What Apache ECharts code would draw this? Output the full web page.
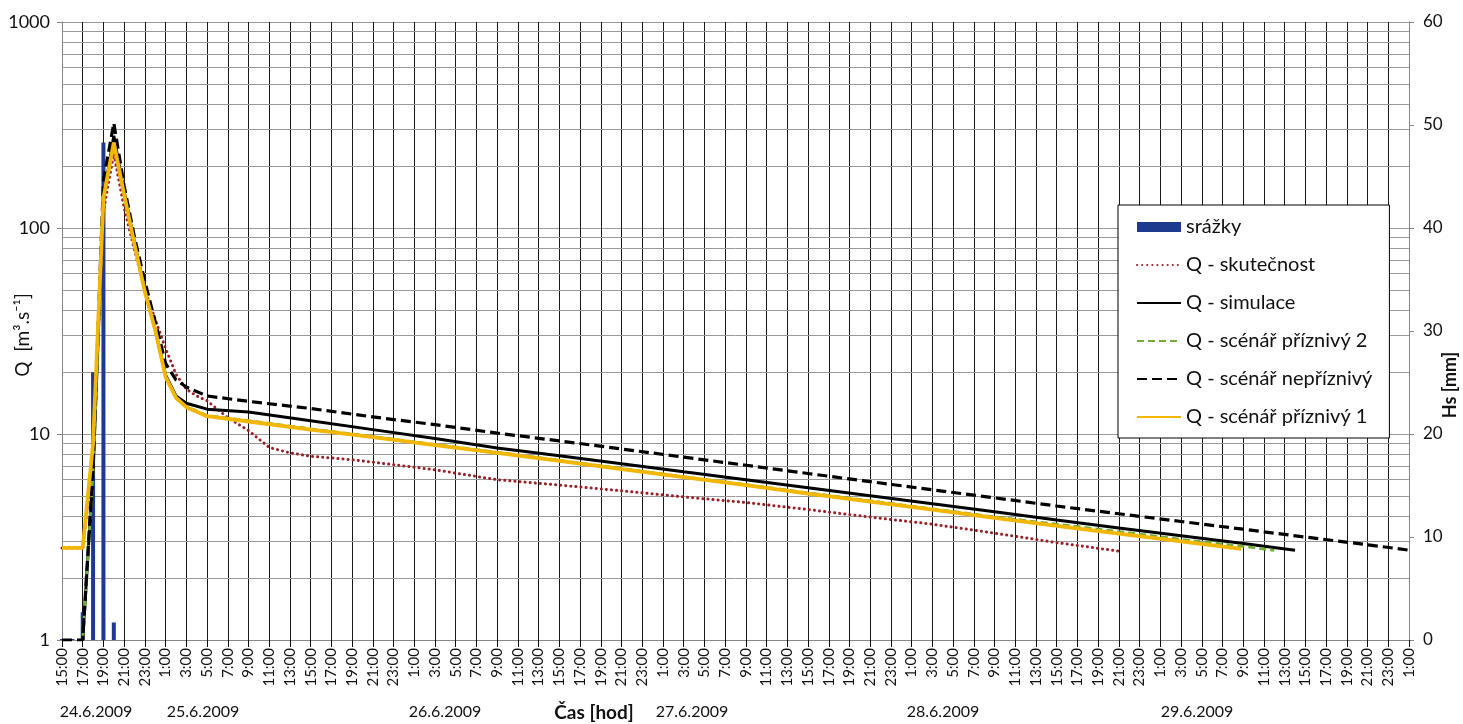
<!DOCTYPE html>
<html>
<head>
<meta charset="utf-8">
<script src="https://cdn.jsdelivr.net/npm/echarts@6/dist/echarts.min.js"></script>
<style>
html,body{margin:0;padding:0;background:#fff;}
#chart{width:1463px;height:724px;}
</style>
</head>
<body>
<div id="chart"></div>
<script>
// time axis: hours since 24.6.2009 15:00
const startHour = 15;
const hourMax = 130;

// rainfall (mm), hourly bars
const rainH = [0, 1, 2, 3, 4, 5];
const rainMm = [0.1, 0.1, 2.7, 26, 48.3, 1.7];

// Q - skutečnost
const realH = [0,2,3,4,5,6,7,8,9,10,11,12,13,14,16,18,20,22,24,28,32,36,42,48,54,60,66,72,78,84,90,96,102];
const realQ = [2.8,2.8,7.5,120,230,125,78,50,36,26,19.5,16.5,15.3,14.5,12,10.4,8.6,8.1,7.8,7.5,7.1,6.7,6.0,5.65,5.3,4.95,4.65,4.3,3.95,3.65,3.3,2.97,2.7];

// Q - simulace
const simH = [2,3,4,5,6,7,8,9,10,11,12,14,18,24,30,36,42,48,54,60,66,72,78,84,90,96,102,108,114,119];
const simQ = [1,6.5,140,280,150,85,50,32,19.3,15.3,14.1,13.2,12.8,11.6,10.5,9.5,8.55,7.85,7.18,6.55,5.99,5.48,5.01,4.58,4.19,3.82,3.5,3.21,2.94,2.73];

// Q - scénář příznivý 2
const fav2H = [2,3,4,5,6,7,8,9,10,11,12,14,18,24,30,36,42,48,54,60,66,72,78,84,90,96,102,108,114,117];
const fav2Q = [1,6.5,140,260,145,83,49,32,19,15,13.6,12.3,11.6,10.6,9.7,8.9,8.15,7.45,6.8,6.2,5.68,5.18,4.74,4.33,3.96,3.65,3.36,3.08,2.85,2.72];

// Q - scénář nepříznivý
const unfavH = [0,2,3,4,5,6,7,8,9,10,11,12,14,18,24,30,36,42,48,54,60,66,72,78,84,90,96,102,108,114,120,126,130];
const unfavQ = [1,1,7,170,323,160,90,55,35,22,18.3,16.9,15.3,14.4,13.3,12.1,11.1,10.1,9.26,8.46,7.72,7.05,6.43,5.87,5.36,4.9,4.47,4.1,3.76,3.45,3.16,2.9,2.73];

// Q - scénář příznivý 1
const fav1H = [0,2,3,4,5,6,7,8,9,10,11,12,14,18,24,30,36,42,48,54,60,66,72,78,84,90,96,102,108,113.8];
const fav1Q = [2.8,2.8,9,140,260,145,83,49,32,18.9,15,13.5,12.2,11.5,10.5,9.65,8.84,8.09,7.4,6.75,6.17,5.64,5.14,4.7,4.29,3.92,3.58,3.28,3.01,2.77];

// minor log grid lines
const minorGrid = [2,3,4,5,6,7,8,9,20,30,40,50,60,70,80,90,200,300,400,500,600,700,800,900];

// date labels under the axis
const dateLabels = ['24.6.2009','25.6.2009','26.6.2009','27.6.2009','28.6.2009','29.6.2009'];
const dateX = [96, 203, 445, 692, 943, 1197];

const names = ['srážky','Q - skutečnost','Q - simulace','Q - scénář příznivý 2','Q - scénář nepříznivý','Q - scénář příznivý 1'];

const zip = (a, b) => a.map((v, i) => [v, b[i]]);
const FONT = 'Lato, "Open Sans", sans-serif';

const chart = echarts.init(document.getElementById('chart'), null, {renderer: 'canvas'});

const graphics = dateLabels.map((t, i) => ({
  type: 'text', x: dateX[i], y: 712,
  style: {text: t, font: '16px ' + FONT, fill: '#111', align: 'center', verticalAlign: 'middle'}
}));
graphics.push({type: 'text', x: 594, y: 713, style: {text: 'Čas [hod]', font: 'bold 19px ' + FONT, fill: '#111', align: 'center', verticalAlign: 'middle'}});
graphics.push({type: 'text', x: 23, y: 335, rotation: Math.PI / 2, style: {text: 'Q  [m³.s⁻¹]', font: '19px ' + FONT, fill: '#111', align: 'center', verticalAlign: 'middle'}});
graphics.push({type: 'text', x: 1450, y: 385, rotation: Math.PI / 2, style: {text: 'Hs [mm]', font: 'bold 18px ' + FONT, fill: '#111', align: 'center', verticalAlign: 'middle'}});

const lineBase = {type: 'line', symbol: 'none', showSymbol: false, yAxisIndex: 0, xAxisIndex: 0, silent: true};

chart.setOption({
  animation: false,
  backgroundColor: '#fff',
  textStyle: {fontFamily: FONT},
  grid: {left: 62, right: 54, top: 22, bottom: 84, containLabel: false},
  legend: {
    orient: 'vertical', left: 1118, top: 205,
    data: [{name: names[0], icon: 'rect', itemStyle: {opacity: 1}}, names[1], names[2], names[3], names[4], names[5]],
    itemWidth: 44, itemHeight: 10, itemGap: 18,
    itemStyle: {opacity: 0},
    padding: [12, 17, 11, 18],
    backgroundColor: '#fff', borderColor: '#000', borderWidth: 1,
    textStyle: {fontSize: 20, color: '#111', fontFamily: FONT}
  },
  xAxis: {
    type: 'value', min: 0, max: hourMax, interval: 2,
    axisLine: {show: true, onZero: false, lineStyle: {color: '#888'}},
    axisTick: {show: true, length: 7, lineStyle: {color: '#111'}},
    splitLine: {show: true, lineStyle: {color: '#1a1a1a', width: 1}},
    axisLabel: {rotate: 90, fontSize: 15, color: '#111', margin: 8,
      formatter: v => ((startHour + v) % 24) + ':00'}
  },
  yAxis: [
    {
      type: 'log', logBase: 10, min: 1, max: 1000,
      axisLine: {show: true, lineStyle: {color: '#888'}},
      axisTick: {show: true, length: 5, lineStyle: {color: '#888'}},
      splitLine: {show: true, lineStyle: {color: '#9a9a9a', width: 1}},
      axisLabel: {fontSize: 18, color: '#111', margin: 12, formatter: v => String(Math.round(v))}
    },
    {
      type: 'value', min: 0, max: 60, interval: 10, position: 'right',
      axisLine: {show: true, lineStyle: {color: '#888'}},
      axisTick: {show: true, length: 5, lineStyle: {color: '#888'}},
      splitLine: {show: false},
      axisLabel: {fontSize: 17, color: '#111', margin: 14}
    }
  ],
  graphic: graphics,
  series: [
    {
      name: names[0], type: 'bar', yAxisIndex: 1, barWidth: 4,
      itemStyle: {color: '#1d3a8e'},
      data: zip(rainH, rainMm), silent: true
    },
    Object.assign({}, lineBase, {
      name: names[1], data: zip(realH, realQ),
      itemStyle: {color: '#9a1f26'},
      lineStyle: {color: '#9a1f26', width: 3, type: [0.1, 5], cap: 'round'},
      markLine: {
        silent: true, symbol: ['none', 'none'], z: 1,
        label: {show: false},
        lineStyle: {color: '#9a9a9a', width: 1, type: 'solid'},
        data: minorGrid.map(v => ({yAxis: v}))
      }
    }),
    Object.assign({}, lineBase, {
      name: names[2], data: zip(simH, simQ),
      itemStyle: {color: '#000'},
      lineStyle: {color: '#000', width: 3}
    }),
    Object.assign({}, lineBase, {
      name: names[3], data: zip(fav2H, fav2Q),
      itemStyle: {color: '#72ad3a'},
      lineStyle: {color: '#72ad3a', width: 2.8, type: [7, 4]}
    }),
    Object.assign({}, lineBase, {
      name: names[4], data: zip(unfavH, unfavQ),
      itemStyle: {color: '#000'},
      lineStyle: {color: '#000', width: 3.2, type: [10, 5]}
    }),
    Object.assign({}, lineBase, {
      name: names[5], data: zip(fav1H, fav1Q),
      itemStyle: {color: '#f2b705'},
      lineStyle: {color: '#f2b705', width: 3.8}
    })
  ]
});
</script>
</body>
</html>
